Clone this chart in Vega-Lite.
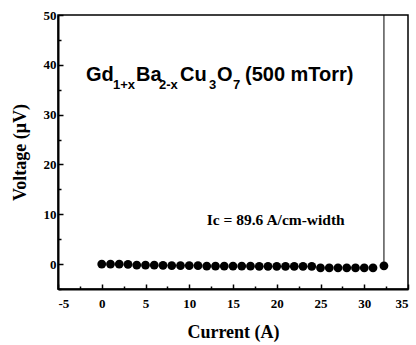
{
  "$schema": "https://vega.github.io/schema/vega-lite/v6.json",
  "autosize": {"type": "none"},
  "width": 350,
  "height": 274,
  "padding": {"left": 58, "top": 15, "right": 8, "bottom": 56},
  "background": "white",
  "config": {
    "view": {"stroke": "black", "strokeWidth": 1.5},
    "axis": {
      "grid": false,
      "domainColor": "black",
      "domainWidth": 2,
      "tickColor": "black",
      "tickWidth": 1.5,
      "labelFont": "Liberation Serif",
      "labelFontWeight": "bold",
      "labelFontSize": 13,
      "labelColor": "black",
      "titleFont": "Liberation Serif",
      "titleFontWeight": "bold",
      "titleFontSize": 18,
      "titleColor": "black",
      "labelOverlap": false
    }
  },
  "datasets": {
    "iv": [
      {"I": 0, "V": 0}, {"I": 1, "V": 0}, {"I": 2, "V": 0}, {"I": 3, "V": -0.05},
      {"I": 4, "V": -0.2}, {"I": 5, "V": -0.2}, {"I": 6, "V": -0.2}, {"I": 7, "V": -0.25},
      {"I": 8, "V": -0.3}, {"I": 9, "V": -0.3}, {"I": 10, "V": -0.3}, {"I": 11, "V": -0.3},
      {"I": 12, "V": -0.4}, {"I": 13, "V": -0.4}, {"I": 14, "V": -0.4}, {"I": 15, "V": -0.4},
      {"I": 16, "V": -0.4}, {"I": 17, "V": -0.4}, {"I": 18, "V": -0.45}, {"I": 19, "V": -0.45},
      {"I": 20, "V": -0.45}, {"I": 21, "V": -0.45}, {"I": 22, "V": -0.45}, {"I": 23, "V": -0.45},
      {"I": 24, "V": -0.45}, {"I": 25, "V": -0.75}, {"I": 26, "V": -0.75}, {"I": 27, "V": -0.75},
      {"I": 28, "V": -0.75}, {"I": 29, "V": -0.75}, {"I": 30, "V": -0.75}, {"I": 31, "V": -0.75},
      {"I": 32.25, "V": -0.35}
    ],
    "jump": [{"I": 32.25, "V": -0.35}, {"I": 32.25, "V": 55}],
    "mainText": [
      {"x": -1.8, "y": 36.85, "t": "Gd"},
      {"x": 3.91, "y": 36.85, "t": "Ba"},
      {"x": 8.94, "y": 36.85, "t": "Cu"},
      {"x": 13.17, "y": 36.85, "t": "O"},
      {"x": 16.37, "y": 36.85, "t": "(500 mTorr)"}
    ],
    "subText": [
      {"x": 1.29, "y": 35.14, "t": "1+x"},
      {"x": 6.54, "y": 35.14, "t": "2-x"},
      {"x": 12.26, "y": 35.14, "t": "3"},
      {"x": 15.0, "y": 35.14, "t": "7"}
    ],
    "note": [{"x": 12.0, "y": 7.9, "t": "Ic = 89.6 A/cm-width"}]
  },
  "encoding": {
    "x": {
      "field": "I", "type": "quantitative",
      "scale": {"domain": [-5, 35], "nice": false, "zero": false},
      "axis": {
        "title": "Current (A)",
        "values": [-5, -2.5, 0, 2.5, 5, 7.5, 10, 12.5, 15, 17.5, 20, 22.5, 25, 27.5, 30, 32.5, 35],
        "labelExpr": "datum.value % 5 === 0 ? '' + datum.value : ''",
        "tickSize": {"condition": {"test": "datum.value % 5 === 0", "value": -5}, "value": -3},
        "labelPadding": 13,
        "titlePadding": 11
      }
    },
    "y": {
      "field": "V", "type": "quantitative",
      "scale": {"domain": [-5, 50], "nice": false, "zero": false},
      "axis": {
        "title": "Voltage (μV)",
        "values": [-5, 0, 5, 10, 15, 20, 25, 30, 35, 40, 45, 50],
        "labelExpr": "datum.value % 10 === 0 ? '' + datum.value : ''",
        "tickSize": {"condition": {"test": "datum.value % 10 === 0", "value": -5}, "value": -3},
        "labelPadding": 7,
        "titlePadding": 14
      }
    }
  },
  "layer": [
    {
      "data": {"name": "jump"},
      "mark": {"type": "line", "color": "black", "strokeWidth": 1, "clip": true},
      "encoding": {}
    },
    {
      "data": {"name": "iv"},
      "mark": {"type": "circle", "color": "black", "opacity": 1, "size": 78},
      "encoding": {}
    },
    {
      "data": {"name": "mainText"},
      "mark": {"type": "text", "font": "Liberation Sans", "fontWeight": "bold", "fontSize": 20, "align": "left", "baseline": "alphabetic", "color": "black"},
      "encoding": {
        "x": {"field": "x", "type": "quantitative"},
        "y": {"field": "y", "type": "quantitative"},
        "text": {"field": "t"}
      }
    },
    {
      "data": {"name": "subText"},
      "mark": {"type": "text", "font": "Liberation Sans", "fontWeight": "bold", "fontSize": 13, "align": "left", "baseline": "alphabetic", "color": "black"},
      "encoding": {
        "x": {"field": "x", "type": "quantitative"},
        "y": {"field": "y", "type": "quantitative"},
        "text": {"field": "t"}
      }
    },
    {
      "data": {"name": "note"},
      "mark": {"type": "text", "font": "Liberation Serif", "fontWeight": "bold", "fontSize": 15.5, "align": "left", "baseline": "alphabetic", "color": "black"},
      "encoding": {
        "x": {"field": "x", "type": "quantitative"},
        "y": {"field": "y", "type": "quantitative"},
        "text": {"field": "t"}
      }
    }
  ]
}
